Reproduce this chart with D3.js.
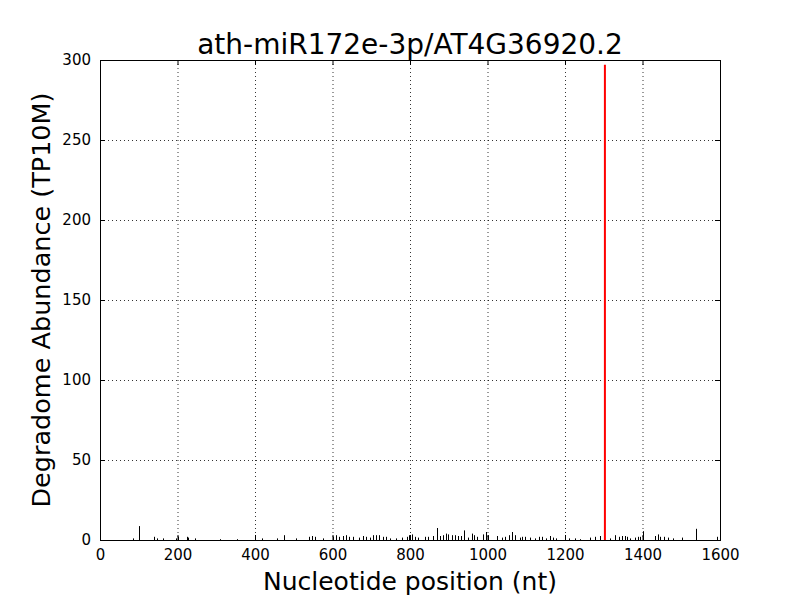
<!DOCTYPE html>
<html>
<head>
<meta charset="utf-8">
<script src="https://d3js.org/d3.v7.min.js"></script>
<style>
  body { margin: 0; background: #fff; font-family: "DejaVu Sans", sans-serif; }
  .tick text { font-family: "DejaVu Sans", sans-serif; font-size: 15px; fill: #000; }
</style>
</head>
<body>
<div id="chart"></div>
<script>
// degradome tags along the transcript (position nt, abundance TP10M)
var positions = [86, 100, 139, 148, 162, 196, 202, 224, 228, 245,
  310, 353, 400, 418, 457, 475, 506, 540, 547,
  555, 576, 601, 609, 617, 627, 635, 643, 653, 668, 679, 687, 697, 705, 712, 720, 730, 738, 748, 764, 779, 792, 798, 805, 813, 821,
  839, 847, 859, 870, 878, 885, 893, 898, 909, 916, 924, 932, 939, 950, 960, 965, 973, 989, 996, 1001, 1024, 1038, 1045, 1056, 1063, 1071, 1084,
  1089, 1097, 1110, 1123, 1133, 1141, 1151, 1161, 1169, 1177, 1200, 1210, 1226, 1239, 1265, 1278, 1290, 1316, 1329, 1340, 1347, 1355, 1360,
  1368, 1381, 1389, 1394, 1401, 1432, 1440, 1445, 1455, 1466, 1479, 1502, 1538, 1592];
var abundance = [1, 8.7, 2, 1, 1, 1, 2, 2, 1.5, 1,
  0.5, 0.5, 1, 1, 1, 3, 1, 2, 2.5,
  2, 1, 2, 3, 2, 2.5, 3, 2, 2, 1.5, 2.5, 2, 1.5, 3, 3, 3, 2, 2, 1, 1, 1.5, 2, 3, 3.5, 2, 1.5,
  2, 2, 2.5, 7.5, 2.5, 3, 4, 3.5, 3, 3, 2.5, 2.5, 6, 1.5, 4, 3, 2, 3.5, 5, 3, 2.5, 1.5, 2, 3, 5, 3, 1.5,
  2, 2, 1.5, 1, 2, 2, 1, 2.5, 1.5, 1, 3, 1, 1, 0.5, 1.5, 2, 2.5, 1, 3, 2, 2.5, 2.5, 2,
  1, 1.5, 2, 2, 5.5, 2.5, 3.5, 2, 2, 1.5, 1, 1.5, 7, 2];
// miRNA cleavage site
var sitePos = [1303];
var siteVal = [297];

var xTicks = [0, 200, 400, 600, 800, 1000, 1200, 1400, 1600];
var yTicks = [0, 50, 100, 150, 200, 250, 300];

var W = 800, H = 600;
var margin = {top: 60, right: 80, bottom: 60, left: 100};
var width = W - margin.left - margin.right,
    height = H - margin.top - margin.bottom;

var svg = d3.select("#chart").append("svg")
    .attr("width", W).attr("height", H);

var g = svg.append("g")
    .attr("transform", "translate(" + margin.left + "," + margin.top + ")");

var x = d3.scaleLinear().domain([0, 1600]).range([0, width]);
var y = d3.scaleLinear().domain([0, 300]).range([height, 0]);

// grid
g.append("g").selectAll("line").data(xTicks.slice(1, -1)).enter().append("line")
    .attr("x1", d => x(d) + 0.5).attr("x2", d => x(d) + 0.5)
    .attr("y1", 0).attr("y2", height)
    .attr("stroke", "#000").attr("stroke-width", 0.8).attr("stroke-dasharray", "1,3");
g.append("g").selectAll("line").data(yTicks.slice(1, -1)).enter().append("line")
    .attr("y1", d => y(d) + 0.5).attr("y2", d => y(d) + 0.5)
    .attr("x1", 0).attr("x2", width)
    .attr("stroke", "#000").attr("stroke-width", 0.8).attr("stroke-dasharray", "1,3");

// tag spikes
g.append("g").selectAll("line").data(positions).enter().append("line")
    .attr("x1", d => Math.round(x(d)) + 0.5).attr("x2", d => Math.round(x(d)) + 0.5)
    .attr("y1", height)
    .attr("y2", (d, i) => y(abundance[i]))
    .attr("stroke", "#000").attr("stroke-width", 1);

g.append("g").selectAll("line").data(sitePos).enter().append("line")
    .attr("x1", d => x(d)).attr("x2", d => x(d))
    .attr("y1", height)
    .attr("y2", (d, i) => y(siteVal[i]))
    .attr("stroke", "#ff0000").attr("stroke-width", 2);

// axes (ticks pointing inward, mirrored)
var fmt = d3.format("d");
g.append("g").attr("transform", "translate(0," + height + ")")
    .call(d3.axisBottom(x).tickValues(xTicks).tickFormat(fmt).tickSizeInner(-5).tickSizeOuter(0).tickPadding(9));
g.append("g")
    .call(d3.axisLeft(y).tickValues(yTicks).tickFormat(fmt).tickSizeInner(-5).tickSizeOuter(0).tickPadding(9));
g.append("g")
    .call(d3.axisTop(x).tickValues(xTicks).tickSizeInner(-5).tickSizeOuter(0).tickFormat(""));
g.append("g").attr("transform", "translate(" + width + ",0)")
    .call(d3.axisRight(y).tickValues(yTicks).tickSizeInner(-5).tickSizeOuter(0).tickFormat(""));
g.selectAll(".domain").remove();

g.append("rect")
    .attr("x", 0.5).attr("y", 0.5).attr("width", width).attr("height", height)
    .attr("fill", "none").attr("stroke", "#000").attr("stroke-width", 1);

// labels
svg.append("text")
    .attr("x", margin.left + width / 2).attr("y", 54)
    .attr("text-anchor", "middle")
    .style("font-size", "28px")
    .text("ath-miR172e-3p/AT4G36920.2");

svg.append("text")
    .attr("x", margin.left + width / 2).attr("y", 590)
    .attr("text-anchor", "middle")
    .style("font-size", "25px")
    .text("Nucleotide position (nt)");

svg.append("text")
    .attr("transform", "translate(50," + (margin.top + height / 2) + ") rotate(-90)")
    .attr("text-anchor", "middle")
    .style("font-size", "25.5px")
    .text("Degradome Abundance (TP10M)");
</script>
</body>
</html>
